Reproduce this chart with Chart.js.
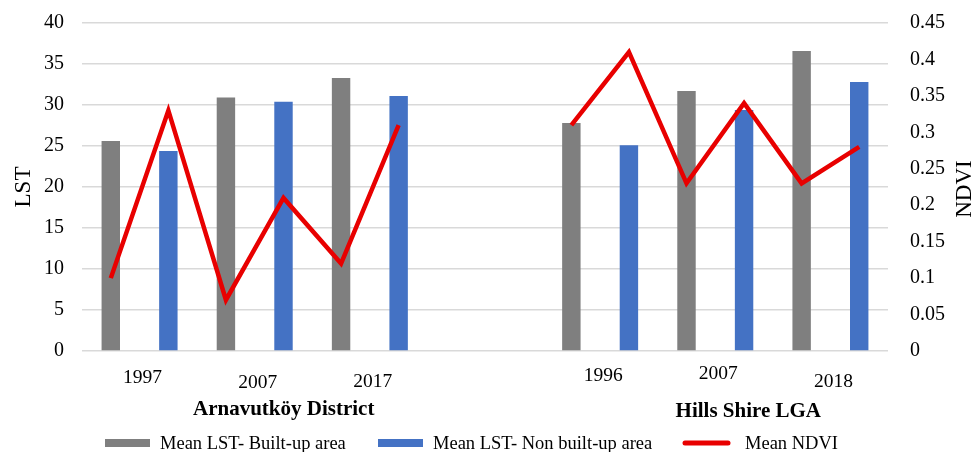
<!DOCTYPE html>
<html>
<head>
<meta charset="utf-8">
<script src="https://cdn.jsdelivr.net/npm/chart.js@4"></script>
<style>
  html, body { margin: 0; padding: 0; background: #fff; }
  #wrap { width: 978px; height: 452px; }
</style>
</head>
<body>
<div id="wrap"><canvas id="chart" width="978" height="452"></canvas></div>
<script>
// one slot per bar, two empty slots between the study areas
const categories = ['1997', '1997', '2007', '2007', '2017', '2017', '', '', '1996', '1996', '2007', '2007', '2018', '2018'];
const groupNames = ['Arnavutköy District', 'Hills Shire LGA'];
const lstBuiltUp = [25.6, null, 30.9, null, 33.3, null, null, null, 27.8, null, 31.7, null, 36.6, null];
const lstNonBuiltUp = [null, 24.4, null, 30.4, null, 31.1, null, null, null, 25.1, null, 29.4, null, 32.8];
const meanNdvi = [0.10, 0.33, 0.07, 0.21, 0.12, 0.31, null, null, 0.31, 0.41, 0.23, 0.34, 0.23, 0.28];
const lstTicks = [0, 5, 10, 15, 20, 25, 30, 35, 40];
const ndviTicks = [0, 0.05, 0.1, 0.15, 0.2, 0.25, 0.3, 0.35, 0.4, 0.45];

const serif = '"Liberation Serif", "DejaVu Serif", serif';

// year labels (one per pair of bars), group names, NDVI title and legend
const extras = {
  id: 'extras',
  afterDraw(chart) {
    const ctx = chart.ctx;
    const x = chart.scales.x;
    const area = chart.chartArea;
    ctx.save();
    ctx.fillStyle = '#000';
    ctx.textAlign = 'center';
    ctx.textBaseline = 'middle';

    // years, slightly staggered like the original
    const yearY = [378, 383, 382, 0, 376, 374, 382];
    ctx.font = '19.5px ' + serif;
    for (let i = 0; i < categories.length; i += 2) {
      if (!categories[i]) continue;
      const px = (x.getPixelForValue(i) + x.getPixelForValue(i + 1)) / 2;
      ctx.fillText(categories[i], px + 3, yearY[i / 2]);
    }

    ctx.font = 'bold 21px ' + serif;
    const g1 = x.getPixelForValue(2.5);
    const g2 = x.getPixelForValue(10.5);
    ctx.fillText(groupNames[0], g1 + 29, 410);
    ctx.fillText(groupNames[1], g2 + 33, 412);

    // right axis title reads bottom to top
    ctx.font = '23px ' + serif;
    ctx.translate(965, (area.top + area.bottom) / 2 + 2);
    ctx.rotate(-Math.PI / 2);
    ctx.fillText('NDVI', 0, 0);
    ctx.restore();

    // legend
    ctx.save();
    ctx.font = '18.5px ' + serif;
    ctx.textBaseline = 'middle';
    ctx.textAlign = 'left';
    const ly = 443;
    const ds = chart.data.datasets;
    const items = [
      { d: ds[1], x: 105 },
      { d: ds[2], x: 378 },
      { d: ds[0], x: 683 }
    ];
    items.forEach(it => {
      if (it.d.type === 'line') {
        ctx.strokeStyle = it.d.borderColor;
        ctx.lineWidth = 5;
        ctx.lineCap = 'round';
        ctx.beginPath();
        ctx.moveTo(it.x + 2, ly);
        ctx.lineTo(it.x + 45, ly);
        ctx.stroke();
      } else {
        ctx.fillStyle = it.d.backgroundColor;
        ctx.fillRect(it.x, ly - 4, 45, 8);
      }
      ctx.fillStyle = '#000';
      ctx.fillText(it.d.label, it.x + (it.d.type === 'line' ? 62 : 55), ly + 1);
    });
    ctx.restore();
  }
};

new Chart(document.getElementById('chart'), {
  data: {
    labels: categories,
    datasets: [
      {
        type: 'line',
        label: 'Mean NDVI',
        data: meanNdvi,
        yAxisID: 'y1',
        borderColor: '#e80000',
        borderWidth: 4.5,
        pointRadius: 0,
        spanGaps: false,
        tension: 0,
        order: 0
      },
      {
        type: 'bar',
        label: 'Mean LST- Built-up area',
        data: lstBuiltUp,
        yAxisID: 'y',
        backgroundColor: '#7f7f7f',
        grouped: false,
        barPercentage: 0.32,
        categoryPercentage: 1,
        order: 1
      },
      {
        type: 'bar',
        label: 'Mean LST- Non built-up area',
        data: lstNonBuiltUp,
        yAxisID: 'y',
        backgroundColor: '#4472c4',
        grouped: false,
        barPercentage: 0.32,
        categoryPercentage: 1,
        order: 1
      }
    ]
  },
  options: {
    responsive: false,
    animation: false,
    layout: { padding: { top: 23, right: 0, left: 0, bottom: 0 } },
    plugins: {
      legend: { display: false },
      tooltip: { enabled: false }
    },
    scales: {
      x: {
        grid: { display: false, drawTicks: false },
        border: { display: false },
        ticks: { display: false },
        afterFit(s) { s.height = 101; }
      },
      y: {
        position: 'left',
        min: 0,
        max: 40,
        afterBuildTicks(s) { s.ticks = lstTicks.map(v => ({ value: v })); },
        grid: { color: '#d9d9d9', lineWidth: 1.5, drawTicks: false },
        border: { display: false },
        ticks: { color: '#000', padding: 18, font: { family: serif, size: 20 } },
        title: { display: true, text: 'LST', color: '#000', padding: { top: 10, bottom: 0 }, font: { family: serif, size: 23 } },
        afterFit(s) { s.width = 82; s.paddingTop = 0; s.paddingBottom = 0; }
      },
      y1: {
        position: 'right',
        min: 0,
        max: 0.45,
        afterBuildTicks(s) { s.ticks = ndviTicks.map(v => ({ value: v })); },
        grid: { display: false, drawTicks: false },
        border: { display: false },
        ticks: {
          color: '#000', padding: 22, font: { family: serif, size: 20 },
          callback: v => String(+v.toFixed(2))
        },
        afterFit(s) { s.width = 90; s.paddingTop = 0; s.paddingBottom = 0; }
      }
    }
  },
  plugins: [extras]
});
</script>
</body>
</html>
